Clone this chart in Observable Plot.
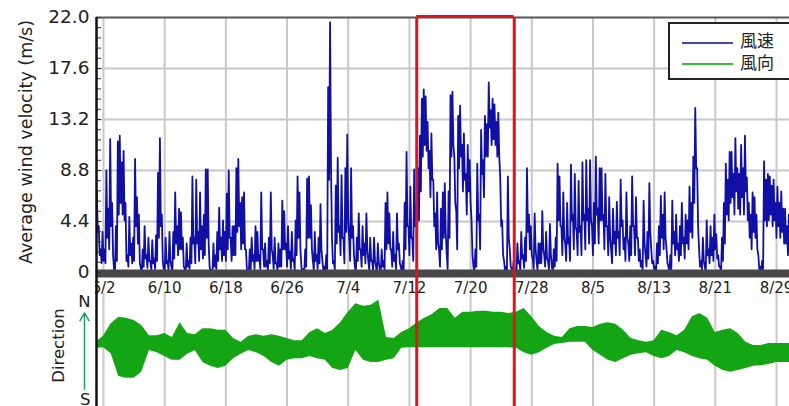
<!DOCTYPE html>
<html><head><meta charset="utf-8">
<script src="https://cdn.jsdelivr.net/npm/d3@7"></script>
<script src="https://cdn.jsdelivr.net/npm/@observablehq/plot@0.6"></script>
<style>
html,body{margin:0;padding:0;background:#fff;overflow:hidden;}
#wrap{position:relative;width:789px;height:406px;overflow:hidden;font-family:"DejaVu Sans",sans-serif;background:#fff;}
#top,#bot{position:absolute;left:0;}
#top{top:0;}
#bot{top:293px;}
#mask{position:absolute;left:86px;top:279px;width:8.7px;height:17px;background:#fff;}
.legend{position:absolute;left:668px;top:22px;width:150px;height:58px;box-sizing:border-box;border:2px solid #222;background:#fff;}
.legend .ln{position:absolute;left:12px;width:51px;height:0;}
.legend .tx{position:absolute;left:70px;font-family:"Noto Sans CJK JP",sans-serif;font-size:17px;line-height:17px;color:#222;}
</style></head>
<body><div id="wrap"><div id="top"></div><div id="bot"></div><div id="mask"></div>
<div class="legend" id="legend"></div></div>
<script>
// ---- data ----
const windStart = "2023-06-01T03:00:00Z";   // one high + one low per 6-hour block
const windStepHours = 6;
const windHigh = [
6.9,4.0,2.0,3.5, 2.0,8.8,5.5,11.5, 6.0,0.3,4.0,11.3, 11.8,9.5,10.5,6.0, 1.5,4.8,2.5,3.0,
9.8,6.5,5.0,0.4, 2.0,4.0,1.5,3.0, 1.0,2.8,1.2,3.2, 8.6,11.6,5.0,0.3, 3.0,1.0,3.5,0.5,
3.5,6.9,4.0,5.5, 5.2,3.0,0.3,2.5, 1.0,3.0,8.3,3.0, 8.0,3.5,6.9,4.0, 5.0,8.9,8.9,0.5,
0.2,2.5,1.5,3.5, 5.6,3.0,4.5,3.5, 6.8,8.8,3.0,4.0, 4.0,9.0,9.8,6.0, 6.5,6.9,2.0,0.2,
2.0,3.0,1.5,4.0, 3.5,1.5,6.9,2.0, 2.5,1.0,3.0,6.9, 1.5,3.0,0.8,2.5, 2.0,6.2,5.3,2.5,
4.0,1.8,3.5,1.2, 4.5,8.3,6.9,0.5, 0.3,2.0,8.1,8.3, 5.8,1.0,3.5,1.5, 3.0,5.9,1.0,0.5,
1.5,16.0,21.6,3.0, 1.0,7.5,9.9,4.0, 8.4,3.0,9.0,11.9, 3.0,9.0,4.0,0.5, 3.0,5.1,2.0,4.0,
2.5,5.1,1.0,3.0, 1.0,3.0,0.5,2.5, 0.3,2.0,1.0,6.0, 6.9,5.1,2.0,3.5, 1.5,5.1,2.5,0.5,
1.0,6.0,10.4,4.0, 7.4,3.0,8.9,6.0, 9.0,11.8,15.0,15.8, 15.2,13.0,10.5,12.0, 8.0,5.1,6.9,2.0,
5.5,6.9,7.7,1.6, 7.0,15.3,15.6,10.0, 5.3,13.5,14.4,11.0, 12.0,8.5,11.0,9.7, 4.5,0.5,2.0,9.4,
5.0,12.3,9.7,13.5, 12.8,16.4,14.0,15.0, 14.5,13.0,13.8,8.2, 4.5,1.0,0.5,8.3, 2.0,0.3,1.0,0.2,
2.5,1.0,3.5,1.5, 3.0,9.0,5.0,4.0, 1.2,5.1,1.0,2.5, 2.5,5.3,1.5,3.5, 1.0,4.2,0.5,2.0,
3.0,9.4,8.3,4.0, 6.9,2.5,6.0,3.0, 9.3,5.0,8.5,3.5, 7.9,4.0,9.5,5.0, 9.7,5.5,9.7,4.0,
6.0,10.0,5.5,9.0, 9.0,5.0,8.5,4.0, 6.5,2.0,5.5,3.5, 6.1,3.5,8.0,4.5, 3.0,6.9,2.5,4.0,
8.3,4.0,6.5,3.0, 2.0,1.0,6.2,1.5, 3.5,7.7,2.0,1.0, 0.5,2.5,4.0,6.6, 5.0,6.9,2.0,0.5,
1.5,6.2,3.5,5.0, 2.5,4.0,6.0,3.0, 5.0,4.5,7.4,6.0, 10.0,14.2,9.0,2.0, 1.0,3.0,0.5,4.5,
2.0,4.0,3.0,5.0, 3.3,1.5,0.5,3.0, 6.0,9.4,8.0,10.4, 10.4,8.5,11.6,9.0, 8.5,11.0,9.0,11.8,
8.2,6.0,5.0,6.9, 6.5,5.0,1.5,0.5, 1.0,9.6,8.0,8.5, 8.3,7.5,8.0,6.0, 7.4,6.0,7.0,5.5,
5.5,4.0,5.0,4.5
];
const windLow = [
3.5,1.5,0.8,1.0, 0.8,3.0,2.0,4.0, 1.5,0.0,1.0,5.0, 6.0,5.0,4.5,1.0, 0.5,1.5,0.8,1.0,
4.0,2.5,0.8,0.0, 0.5,1.2,0.4,1.0, 0.2,0.8,0.3,1.0, 3.0,4.0,1.0,0.0, 0.8,0.2,1.0,0.0,
1.2,2.5,1.5,2.0, 2.0,0.5,0.0,0.5, 0.3,0.8,2.5,0.8, 2.5,1.0,2.0,1.2, 1.5,3.0,2.5,0.0,
0.0,0.5,0.3,1.0, 2.0,1.0,1.5,1.0, 2.0,3.0,1.0,1.5, 1.5,3.5,4.0,2.0, 2.5,2.0,0.3,0.0,
0.3,1.0,0.3,1.0, 1.0,0.3,2.0,0.5, 0.5,0.2,0.8,2.0, 0.3,0.8,0.2,0.5, 0.5,2.0,2.0,0.5,
1.2,0.3,1.0,0.2, 1.5,3.0,2.0,0.0, 0.0,0.5,3.0,3.0, 2.0,0.2,1.0,0.3, 0.8,2.0,0.2,0.0,
0.3,8.0,9.0,0.8, 0.2,2.5,3.5,1.5, 3.0,0.8,3.5,4.5, 1.0,3.0,1.5,0.0, 1.0,2.0,0.5,1.5,
0.8,2.0,0.2,1.0, 0.2,1.0,0.0,0.8, 0.0,0.5,0.2,2.0, 2.5,2.0,0.5,1.0, 0.3,2.0,0.8,0.0,
0.2,2.0,4.0,1.5, 3.0,1.0,4.0,3.0, 4.5,7.0,10.0,11.0, 10.5,9.0,6.5,8.0, 4.0,2.0,2.5,0.5,
2.0,3.0,3.5,0.3, 3.0,10.0,11.0,6.0, 2.0,9.0,10.0,7.0, 8.0,5.0,7.0,6.0, 1.5,0.0,0.5,4.5,
2.0,8.5,6.5,10.0, 10.0,12.5,11.0,11.5, 11.0,10.0,10.0,4.0, 1.5,0.2,0.0,3.0, 0.5,0.0,0.3,0.0,
0.8,0.2,1.2,0.4, 1.0,3.5,2.0,1.5, 0.3,2.0,0.2,0.8, 0.8,2.0,0.5,1.2, 0.2,1.5,0.0,0.5,
1.0,4.5,4.0,1.5, 3.0,1.0,2.5,1.0, 4.5,2.0,4.0,1.5, 3.5,1.5,4.5,2.0, 4.5,2.5,4.5,1.5,
2.5,5.0,2.5,4.5, 4.5,2.0,4.0,1.5, 3.0,0.8,2.5,1.5, 3.0,1.5,4.0,2.0, 1.0,3.0,1.0,1.5,
4.0,1.5,3.0,1.0, 0.5,0.2,2.5,0.5, 1.2,3.5,0.8,0.3, 0.0,0.8,1.5,3.0, 2.0,3.0,0.8,0.0,
0.3,2.5,1.5,2.0, 1.0,1.5,2.5,1.2, 2.5,2.0,3.5,3.0, 6.0,9.0,4.0,0.5, 0.2,1.0,0.0,1.5,
0.8,1.5,1.0,2.0, 1.2,0.5,0.0,1.0, 2.5,5.0,4.5,6.0, 6.5,5.0,7.0,5.5, 5.0,6.5,5.0,7.0,
4.5,3.0,2.0,3.5, 3.0,2.0,0.3,0.0, 0.3,4.5,4.0,4.5, 5.0,4.0,4.5,3.0, 4.0,3.0,3.5,2.5,
2.5,1.5,2.5,2.0
];
// direction band (degrees from north), daily envelope
const dirStart = "2023-06-01T00:00:00Z";
const dirNorthEdge = [74,63,40,28,30,34,43,62,62,58,65,38,58,60,49,49,52,52,67,74,
63,60,63,60,63,67,71,71,56,49,58,52,38,19,3,8,6,-3,65,67,
56,49,38,30,23,12,12,30,19,19,17,17,19,19,21,19,12,27,45,56,
63,65,49,45,45,47,41,38,41,52,67,71,74,71,52,56,62,52,27,21,
30,56,52,49,58,74,80,80,76,76,76,76];
const dirSouthEdge = [85,84,95,137,140,140,129,89,93,100,107,107,96,89,111,118,122,118,104,96,
89,93,100,111,118,107,104,104,100,104,107,122,126,122,89,107,111,111,107,104,
85,84,84,84,84,84,84,84,84,84,84,84,84,84,84,85,93,98,93,85,
78,76,74,74,74,89,98,107,111,104,98,95,93,100,104,100,89,93,100,104,
107,118,126,129,126,122,118,117,115,111,111,111];
const xTickDates = ["2023-06-02","2023-06-10","2023-06-18","2023-06-26","2023-07-04","2023-07-12",
"2023-07-20","2023-07-28","2023-08-05","2023-08-13","2023-08-21","2023-08-29"];
const yTicks = [0, 4.4, 8.8, 13.2, 17.6, 22.0];
const yTickLabels = ["0", "4.4", "8.8", "13.2", "17.6", "22.0"];
const yMinorStep = 0.88;
const dirTicks = [0, 180];
const dirTickLabels = ["N", "S"];
const highlightRange = ["2023-07-12T23:00:00Z", "2023-07-25T17:00:00Z"];
const xRange = ["2023-06-01T02:00:00Z", "2023-08-30T16:50:00Z"];
const yLabel = "Average wind velocity (m/s)";
const dirLabel = "Direction";
const legendNames = ["風速", "風向"];

// ---- build ----
const BLUE = "#1010a6", GREEN = "#14a514", RED = "#e0141e", GRID = "#c8c8c8";
const H = 3600e3;
const t0 = Date.parse(windStart);
const windRows = [];
windHigh.forEach((v, i) => {
  windRows.push({t: new Date(t0 + i * windStepHours * H), v});
  windRows.push({t: new Date(t0 + (i + 0.5) * windStepHours * H), v: windLow[i]});
});
const dirRows = dirNorthEdge.map((n, i) => ({t: new Date(Date.parse(dirStart) + i * 24 * H), n, s: dirSouthEdge[i]}));
const xTicks = xTickDates.map(d => new Date(d + "T00:00:00Z"));
const xDomain = xRange.map(d => new Date(d));
const highlight = highlightRange.map(d => new Date(d));
const yMinor = d3.range(0, 22.0001, yMinorStep);
const yGrid = yTicks.filter(d => d > 0 && d < 22);
const fmt = d3.utcFormat("%-m/%-d");

const topPlot = Plot.plot({
  width: 789, height: 300,
  marginLeft: 96, marginRight: 0, marginTop: 17, marginBottom: 28,
  style: {fontFamily: "'DejaVu Sans', sans-serif", background: "#fff", color: "#222", fontSize: "15px"},
  x: {type: "utc", domain: xDomain, axis: null},
  y: {domain: [0, 22]},
  marks: [
    Plot.gridY(yGrid, {stroke: GRID, strokeOpacity: 1, strokeWidth: 2}),
    Plot.gridX(xTicks, {stroke: GRID, strokeOpacity: 1, strokeWidth: 2}),
    Plot.line(windRows, {x: "t", y: "v", stroke: BLUE, strokeWidth: 1.8, clip: true}),
    Plot.ruleY([0], {stroke: "#474747", strokeWidth: 8, dy: 1}),
    Plot.ruleY([22], {stroke: "#555", strokeWidth: 2}),
    Plot.axisY({ticks: yMinor, tickSize: -5, tickFormat: () => "", stroke: "#333", label: null}),
    Plot.text(yTicks, {y: d => d, text: (d, i) => yTickLabels[i], frameAnchor: "left", textAnchor: "end", dx: -7, fontSize: 18.5, fill: "#222"}),
    Plot.text(xTicks, {x: d => d, text: d => fmt(d), frameAnchor: "bottom", lineAnchor: "middle", dy: 15.5, fontSize: 15, fill: "#222"}),
    Plot.ruleX([xDomain[0]], {y1: 22, y2: -1.9, stroke: "#111", strokeWidth: 2.5}),
    Plot.ruleX(highlight, {y1: 22, y2: -1.9, stroke: RED, strokeWidth: 3}),
    Plot.ruleY([22], {x1: highlight[0], x2: highlight[1], stroke: RED, strokeWidth: 3, dy: -1}),
    Plot.text([yLabel], {text: d => d, frameAnchor: "left", textAnchor: "middle", rotate: -90, dx: -70, dy: -3, fontSize: 17.5, fill: "#222"})
  ]
});
document.getElementById("top").appendChild(topPlot);

const botPlot = Plot.plot({
  width: 789, height: 113,
  marginLeft: 96, marginRight: 0, marginTop: 0, marginBottom: 0,
  style: {fontFamily: "'DejaVu Sans', sans-serif", background: "transparent", color: "#222", fontSize: "16px"},
  x: {type: "utc", domain: xDomain, axis: null},
  y: {domain: [-15.6, 191.9], reverse: true, axis: null},
  marks: [
    Plot.ruleX(xTicks, {stroke: GRID, strokeWidth: 2}),
    Plot.areaY(dirRows, {x: "t", y1: "n", y2: "s", fill: GREEN, clip: true}),
    Plot.ruleX([xDomain[0]], {stroke: "#111", strokeWidth: 2.5}),
    Plot.ruleX(highlight, {stroke: RED, strokeWidth: 3}),
    Plot.text(dirTicks, {y: d => d, text: (d, i) => dirTickLabels[i], frameAnchor: "left", textAnchor: "end", dx: -6, fontSize: 16.5, fill: "#222"}),
    Plot.arrow([[160, 20]], {x1: () => xDomain[0], x2: () => xDomain[0], y1: d => d[0], y2: d => d[1], dx: -12, stroke: "#2a9a70", strokeWidth: 1.5, headLength: 9}),
    Plot.text([dirLabel], {text: d => d, frameAnchor: "left", textAnchor: "middle", rotate: -90, dx: -38, dy: -4.5, fontSize: 16.5, fill: "#222"})
  ]
});
document.getElementById("bot").appendChild(botPlot);

// legend
const lg = document.getElementById("legend");
const legendColors = ["#4646b4", "#33c033"];
legendNames.forEach((name, i) => {
  const ln = document.createElement("div");
  ln.className = "ln";
  ln.style.top = (18 + i * 21) + "px";
  ln.style.borderTop = "2px solid " + legendColors[i];
  lg.appendChild(ln);
  const tx = document.createElement("div");
  tx.className = "tx";
  tx.style.top = (7 + i * 22) + "px";
  tx.textContent = name;
  lg.appendChild(tx);
});
</script></body></html>
